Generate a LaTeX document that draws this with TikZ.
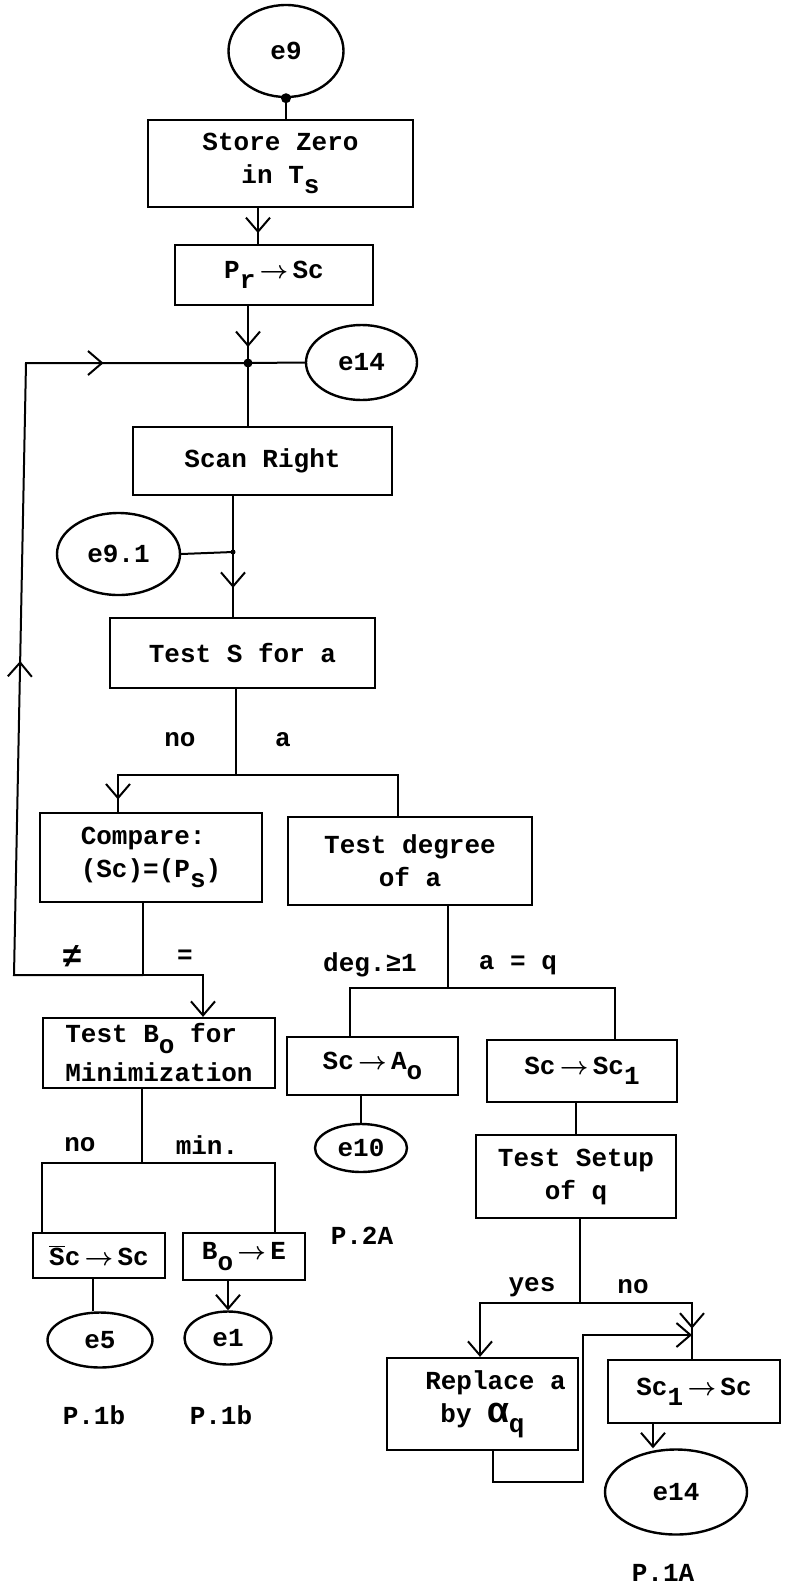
\documentclass[tikz,border=0pt]{standalone}
\usepackage{fontspec}
\setmainfont{Liberation Mono}
\usepackage{tikz}
\usetikzlibrary{shapes.geometric, arrows.meta, decorations.markings}
\newcommand{\tw}{\fontsize{26}{33}\selectfont\bfseries}
\newcommand{\lowr}[1]{\raisebox{-0.75ex}{#1}}
\newcommand{\toarr}{\,{\boldmath$\rightarrow$}\,}

\begin{document}
\begin{tikzpicture}[x=1pt, y=-1pt,
    box/.style={rectangle, draw, line width=2.2pt, align=center, inner sep=0pt, font=\tw},
    term/.style={ellipse, draw, line width=2.4pt, inner sep=0pt, font=\tw},
    lbl/.style={font=\tw, inner sep=1pt},
    wire/.style={line width=2pt},
    barb/.tip={Straight Barb[length=14pt, width=24pt]},
    arr/.style={wire, -{barb}},
    midarr/.style={wire, postaction={decorate},
                   decoration={markings, mark=at position #1 with {\arrow{barb}}}},
    dot/.style={circle, fill, inner sep=0pt, minimum size=#1}
  ]
  \path[fill=white, use as bounding box] (0,0) rectangle (790,1588);

  % main column
  \node[term, minimum width=115pt, minimum height=92pt] (e9) at (286,51) {e9};
  \node[box, minimum width=265pt, minimum height=87pt] (store) at (280.5,163.5) {Store Zero\\in T\lowr{s}};
  \node[box, minimum width=198pt, minimum height=60pt] (prsc) at (274,275) {P\lowr{r}\toarr Sc};
  \node[term, minimum width=111pt, minimum height=75pt] (e14a) at (361.5,362.5) {e14};
  \node[box, minimum width=259pt, minimum height=68pt] (scan) at (262.5,461) {Scan Right};
  \node[term, minimum width=123pt, minimum height=82pt] (e91) at (118.5,554) {e9.1};
  \node[box, minimum width=265pt, minimum height=70pt] (tests) at (242.5,653) {Test S for a};

  % left branch
  \node[box, minimum width=222pt, minimum height=89pt, align=left] (compare) at (151,857.5) {Compare:\\(Sc)=(P\lowr{s})};
  \node[box, minimum width=232pt, minimum height=70pt, align=left] (testb) at (159,1053) {Test B\lowr{o} for\\[6pt]Minimization};
  \node[box, minimum width=132pt, minimum height=45pt] (scbar) at (99,1255.5) {$\overline{\hbox{S}}$c\toarr Sc};
  \node[box, minimum width=122pt, minimum height=47pt] (boe) at (244,1256.5) {B\lowr{o}\toarr E};
  \node[term, minimum width=105pt, minimum height=55pt] (e5) at (100,1340) {e5};
  \node[term, minimum width=87pt, minimum height=53pt] (e1) at (228,1338) {e1};

  % right branch
  \node[box, minimum width=244pt, minimum height=88pt] (testdeg) at (410,861) {Test degree\\of a};
  \node[box, minimum width=171pt, minimum height=58pt] (scao) at (372.5,1066) {Sc\toarr A\lowr{o}};
  \node[box, minimum width=190pt, minimum height=62pt] (scsc) at (582,1071) {Sc\toarr Sc\lowr{1}};
  \node[term, minimum width=92pt, minimum height=48pt] (e10) at (361,1148) {e10};
  \node[box, minimum width=200pt, minimum height=83pt] (setup) at (576,1176.5) {Test Setup\\of q};
  \node[box, minimum width=191pt, minimum height=92pt] (replace) at (482.5,1404) {\hspace*{1em}Replace a\\by {\fontsize{36}{36}\selectfont α}\lowr{q}};
  \node[box, minimum width=172pt, minimum height=63pt] (scsc1) at (694,1391.5) {Sc\lowr{1}\toarr Sc};
  \node[term, minimum width=142pt, minimum height=85pt] (e14b) at (676,1492) {e14};

  % branch labels
  \node[lbl] (lno1) at (180,740) {no};
  \node[lbl] (la) at (283,740) {a};
  \node[lbl] (lneq) at (72,957) {{\fontsize{34}{34}\selectfont ≠}};
  \node[lbl] (leq) at (185,957) {=};
  \node[lbl] (ldeg) at (370,965) {deg.≥1};
  \node[lbl] (laq) at (518,965) {a = q};
  \node[lbl] (lno2) at (80,1145) {no};
  \node[lbl] (lmin) at (207,1145) {min.};
  \node[lbl] (lyes) at (532,1287) {yes};
  \node[lbl] (lno3) at (633,1287) {no};

  % page refs
  \node[lbl] (p2a) at (362,1236) {P.2A};
  \node[lbl] (p1b) at (94,1415) {P.1b};
  \node[lbl] (p1bb) at (221,1415) {P.1b};
  \node[lbl] (p1a) at (663,1573) {P.1A};

  % junctions
  \coordinate (j1) at (248,363);
  \coordinate (j2) at (233,552);
  \coordinate (s1) at (236,775);
  \coordinate (s2) at (118,775);
  \coordinate (s3) at (398,775);
  \coordinate (c1) at (143,975);
  \coordinate (c2) at (203,975);
  \coordinate (loopbl) at (14,975);
  \coordinate (looptl) at (26,363);
  \coordinate (d1) at (448,988);
  \coordinate (d2) at (350,988);
  \coordinate (d3) at (615,988);
  \coordinate (b1) at (142,1163);
  \coordinate (b2) at (42,1163);
  \coordinate (b3) at (275,1163);
  \coordinate (q1) at (580,1303);
  \coordinate (q2) at (480,1303);
  \coordinate (q3) at (692,1303);
  \coordinate (r1) at (493,1482);
  \coordinate (r2) at (583,1482);
  \coordinate (r3) at (583,1335);

  % connectors
  \draw[wire] (e9.south) -- (e9.south |- store.north);
  \node[dot=10pt] (dot1) at (e9.south) {};
  \draw[midarr=0.7] ([xshift=-16pt]prsc.north |- store.south) -- ([xshift=-16pt]prsc.north);
  \draw[midarr=0.72] (prsc.south -| j1) -- (j1);
  \draw[wire] (j1) -- (j1 |- scan.north);
  \draw[wire] (e14a.west) -- (j1);
  \node[dot=9pt] (dot2) at (j1) {};
  \draw[midarr=0.76] (scan.south -| j2) -- (tests.north -| j2);
  \draw[wire] (e91.east) -- (j2);
  \node[dot=5pt] (dot3) at (j2) {};

  \draw[wire] (tests.south -| s1) -- (s1);
  \draw[midarr=0.92] (s1) -- (s2) -- (s2 |- compare.north);
  \draw[wire] (s1) -- (s3) -- (s3 |- testdeg.north);

  \draw[wire] (compare.south -| c1) -- (c1);
  \draw[wire, postaction={decorate},
        decoration={markings, mark=at position 0.46 with {\arrow{barb}},
                    mark=at position 0.85 with {\arrow{barb}}}]
    (c1) -- (loopbl) -- (looptl) -- (j1);
  \draw[arr] (c1) -- (c2) -- (c2 |- testb.north);

  \draw[wire] (testb.south -| b1) -- (b1);
  \draw[wire] (b1) -- (b2) -- (b2 |- scbar.north);
  \draw[wire] (b1) -- (b3) -- (b3 |- boe.north);
  \draw[wire] ([xshift=-7pt]e5.north |- scbar.south) -- ([xshift=-7pt]e5.north);
  \draw[arr] (e1.north |- boe.south) -- (e1.north);

  \draw[wire] (testdeg.south -| d1) -- (d1);
  \draw[wire] (d1) -- (d2) -- (d2 |- scao.north);
  \draw[wire] (d1) -- (d3) -- (d3 |- scsc.north);
  \draw[wire] (scao.south -| e10.north) -- (e10.north);
  \draw[wire] (setup.north |- scsc.south) -- (setup.north);

  \draw[wire] (setup.south -| q1) -- (q1);
  \draw[arr] (q1) -- (q2) -- (q2 |- replace.north);
  \draw[midarr=0.82] (q1) -- (q3) -- (q3 |- scsc1.north);
  \draw[arr] (replace.south -| r1) -- (r1) -- (r2) -- (r3) -- (r3 -| q3);
  \draw[arr] ([xshift=-23pt]e14b.north |- scsc1.south) -- ([xshift=-23pt]e14b.north);
\end{tikzpicture}
\end{document}
